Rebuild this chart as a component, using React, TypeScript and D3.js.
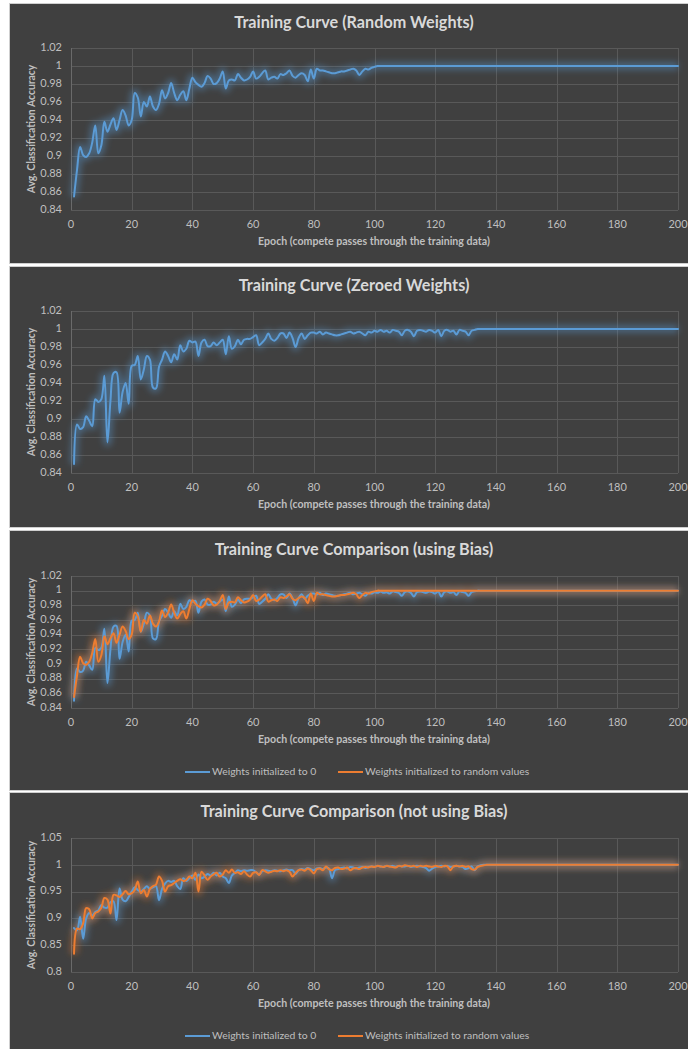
import * as d3 from "d3";
import { useEffect } from "react";

// epoch axis
const xTicks = [0, 20, 40, 60, 80, 100, 120, 140, 160, 180, 200];

// y ticks per panel
const yTicksBias = [0.84, 0.86, 0.88, 0.9, 0.92, 0.94, 0.96, 0.98, 1, 1.02];
const yTickLabelsBias = ["0.84", "0.86", "0.88", "0.9", "0.92", "0.94", "0.96", "0.98", "1", "1.02"];
const yTicksNoBias = [0.8, 0.85, 0.9, 0.95, 1, 1.05];
const yTickLabelsNoBias = ["0.8", "0.85", "0.9", "0.95", "1", "1.05"];

// accuracy per epoch (1..200)
const randomBias = [
  0.855, 0.885, 0.91, 0.901, 0.899, 0.903, 0.915, 0.934, 0.903, 0.912,
  0.938, 0.927, 0.935, 0.942, 0.929, 0.94, 0.951, 0.945, 0.934, 0.94,
  0.97, 0.965, 0.944, 0.96, 0.955, 0.966, 0.955, 0.951, 0.958, 0.973,
  0.964, 0.97, 0.981, 0.97, 0.962, 0.968, 0.972, 0.962, 0.975, 0.987,
  0.982, 0.979, 0.977, 0.981, 0.989, 0.986, 0.98, 0.981, 0.986, 0.994,
  0.975, 0.984, 0.985, 0.984, 0.991, 0.987, 0.984, 0.985, 0.988, 0.994,
  0.986, 0.988, 0.992, 0.995, 0.985, 0.987, 0.988, 0.986, 0.991, 0.99,
  0.992, 0.995, 0.989, 0.987, 0.99, 0.992, 0.99, 0.983, 0.996, 0.986,
  0.997, 0.995, 0.995, 0.994, 0.993, 0.992, 0.992, 0.993, 0.994, 0.994,
  0.995, 0.996, 0.997, 0.995, 0.99, 0.994, 0.997, 0.996, 0.998, 0.999,
  1, 1, 1, 1, 1, 1, 1, 1, 1, 1, 1, 1, 1, 1, 1, 1, 1, 1, 1, 1,
  1, 1, 1, 1, 1, 1, 1, 1, 1, 1, 1, 1, 1, 1, 1, 1, 1, 1, 1, 1,
  1, 1, 1, 1, 1, 1, 1, 1, 1, 1, 1, 1, 1, 1, 1, 1, 1, 1, 1, 1,
  1, 1, 1, 1, 1, 1, 1, 1, 1, 1, 1, 1, 1, 1, 1, 1, 1, 1, 1, 1,
  1, 1, 1, 1, 1, 1, 1, 1, 1, 1, 1, 1, 1, 1, 1, 1, 1, 1, 1, 1,
];

const zeroBias = [
  0.85, 0.894, 0.889, 0.891, 0.903, 0.898, 0.892, 0.922, 0.919, 0.922,
  0.948, 0.874, 0.92, 0.951, 0.952, 0.907, 0.93, 0.94, 0.917, 0.959,
  0.96, 0.97, 0.944, 0.955, 0.97, 0.966, 0.935, 0.934, 0.958, 0.966,
  0.975, 0.97, 0.963, 0.972, 0.966, 0.982, 0.975, 0.978, 0.987, 0.985,
  0.986, 0.97, 0.985, 0.988, 0.981, 0.981, 0.985, 0.982, 0.985, 0.988,
  0.972, 0.992, 0.978, 0.981, 0.988, 0.983, 0.988, 0.989, 0.989, 0.991,
  0.993, 0.982, 0.985, 0.989, 0.995, 0.989, 0.987, 0.99, 0.995, 0.995,
  0.99, 0.996, 0.99, 0.98, 0.99, 0.995, 0.989, 0.993, 0.996, 0.996,
  0.995, 0.997, 0.994, 0.996, 0.995, 0.994, 0.993, 0.993, 0.994, 0.995,
  0.996, 0.997, 0.995, 0.996, 0.997, 0.995, 0.993, 0.997, 0.996, 0.998,
  0.997, 0.999, 0.997, 0.998, 0.996, 0.999, 0.998, 0.997, 0.993, 0.998,
  0.999, 0.997, 0.992, 0.998, 0.999, 0.998, 0.997, 0.999, 0.998, 0.996,
  0.999, 0.992, 0.998, 0.999, 0.997, 0.998, 0.994, 0.999, 0.998, 0.997,
  0.993, 0.998, 0.999, 1, 1, 1, 1, 1, 1, 1,
  1, 1, 1, 1, 1, 1, 1, 1, 1, 1, 1, 1, 1, 1, 1, 1, 1, 1, 1, 1,
  1, 1, 1, 1, 1, 1, 1, 1, 1, 1, 1, 1, 1, 1, 1, 1, 1, 1, 1, 1,
  1, 1, 1, 1, 1, 1, 1, 1, 1, 1, 1, 1, 1, 1, 1, 1, 1, 1, 1, 1,
];

const randomNoBias = [
  0.834, 0.881, 0.88, 0.891, 0.919, 0.917, 0.9, 0.91, 0.913, 0.92,
  0.938, 0.935, 0.909, 0.944, 0.943, 0.94, 0.945, 0.951, 0.945, 0.947,
  0.953, 0.969, 0.947, 0.953, 0.941, 0.955, 0.96, 0.963, 0.978, 0.97,
  0.95, 0.96, 0.962, 0.966, 0.97, 0.973, 0.97, 0.972, 0.978, 0.975,
  0.985, 0.95, 0.987, 0.98, 0.972, 0.978, 0.982, 0.985, 0.978, 0.982,
  0.99, 0.985, 0.991, 0.985, 0.986, 0.983, 0.988, 0.982, 0.978, 0.985,
  0.986, 0.981, 0.99, 0.988, 0.985, 0.987, 0.989, 0.988, 0.99, 0.988,
  0.99, 0.987, 0.978, 0.985, 0.99, 0.991, 0.989, 0.993, 0.99, 0.984,
  0.992, 0.993, 0.99, 0.997, 0.992, 0.99, 0.994, 0.995, 0.992, 0.993,
  0.995, 0.99, 0.993, 0.994, 0.992, 0.995, 0.996, 0.995, 0.997, 0.996,
  0.998, 0.997, 0.996, 0.998, 0.997, 0.996, 0.995, 0.998, 0.997, 0.999,
  0.998, 0.997, 0.998, 0.996, 0.998, 0.997, 0.998, 0.997, 0.996, 0.998,
  0.997, 0.996, 0.998, 0.997, 0.99, 0.997, 0.998, 0.997, 0.998, 0.996,
  0.997, 0.992, 0.991, 0.996, 0.998, 0.999, 1, 1, 1, 1,
  1, 1, 1, 1, 1, 1, 1, 1, 1, 1, 1, 1, 1, 1, 1, 1, 1, 1, 1, 1,
  1, 1, 1, 1, 1, 1, 1, 1, 1, 1, 1, 1, 1, 1, 1, 1, 1, 1, 1, 1,
  1, 1, 1, 1, 1, 1, 1, 1, 1, 1, 1, 1, 1, 1, 1, 1, 1, 1, 1, 1,
];

const zeroNoBias = [
  0.882, 0.878, 0.903, 0.862, 0.9, 0.91, 0.905, 0.912, 0.915, 0.925,
  0.92, 0.92, 0.93, 0.932, 0.897, 0.956, 0.935, 0.932, 0.94, 0.95,
  0.958, 0.953, 0.95, 0.955, 0.96, 0.955, 0.958, 0.96, 0.934, 0.955,
  0.965, 0.97, 0.968, 0.97, 0.96, 0.955, 0.975, 0.97, 0.975, 0.98,
  0.972, 0.982, 0.975, 0.978, 0.983, 0.98, 0.985, 0.98, 0.985, 0.978,
  0.975, 0.966, 0.98, 0.985, 0.99, 0.988, 0.99, 0.989, 0.99, 0.99,
  0.986, 0.982, 0.988, 0.99, 0.989, 0.988, 0.99, 0.989, 0.988, 0.99,
  0.991, 0.99, 0.99, 0.983, 0.99, 0.992, 0.991, 0.994, 0.992, 0.99,
  0.993, 0.994, 0.992, 0.995, 0.993, 0.975, 0.99, 0.992, 0.994, 0.995,
  0.993, 0.996, 0.995, 0.993, 0.995, 0.996, 0.994, 0.996, 0.997, 0.996,
  0.998, 0.997, 0.996, 0.998, 0.997, 0.998, 0.996, 0.998, 0.997, 0.997,
  0.998, 0.996, 0.997, 0.998, 0.997, 0.996, 0.994, 0.989, 0.993, 0.996,
  0.997, 0.998, 0.997, 0.998, 0.996, 0.997, 0.998, 0.997, 0.996, 0.992,
  0.994, 0.997, 0.99, 0.997, 0.999, 1, 1, 1, 1, 1,
  1, 1, 1, 1, 1, 1, 1, 1, 1, 1, 1, 1, 1, 1, 1, 1, 1, 1, 1, 1,
  1, 1, 1, 1, 1, 1, 1, 1, 1, 1, 1, 1, 1, 1, 1, 1, 1, 1, 1, 1,
  1, 1, 1, 1, 1, 1, 1, 1, 1, 1, 1, 1, 1, 1, 1, 1, 1, 1, 1, 1,
];

const legendZero = "Weights initialized to 0";
const legendRandom = "Weights initialized to random values";
const xTitle = "Epoch (compete passes through the training data)";
const yTitle = "Avg. Classification Accuracy";

const BLUE = "#5b9bd5";
const ORANGE = "#ed7d31";
const BG = "#404040";
const GRID = "#595959";
const TEXT = "#d9d9d9";
const TICK = "#bfbfbf";
const FONT = "Lato, 'Open Sans', sans-serif";

type Series = { values: number[]; color: string };

type PanelProps = {
  top: number;
  bottom: number;
  title: string;
  plotTop: number;
  plotBottom: number;
  yTicks: number[];
  yLabels: string[];
  series: Series[];
  legend?: boolean;
};

const X0 = 71;
const X1 = 678;

function Panel({ top, bottom, title, plotTop, plotBottom, yTicks, yLabels, series, legend }: PanelProps) {
  const x = d3.scaleLinear().domain([0, 200]).range([X0, X1]);
  const y = d3
    .scaleLinear()
    .domain([yTicks[0], yTicks[yTicks.length - 1]])
    .range([plotBottom, plotTop]);
  const line = d3
    .line<number>()
    .x((_, i) => x(i + 1))
    .y((d) => y(d))
    .curve(d3.curveCatmullRom.alpha(0.5));

  const tickY = plotBottom + 15;
  const xTitleY = plotBottom + 32;
  const legendY = plotBottom + 64;

  return (
    <g>
      <rect x={9.5} y={top + 0.5} width={688} height={bottom - top} fill={BG} stroke="#cfcfcf" strokeWidth={1} />
      <text x={354} y={top + 21} textAnchor="middle" dominantBaseline="middle" fill={TEXT} fontSize={16.2} fontWeight={700} fontFamily={FONT}>
        {title}
      </text>
      {yTicks.map((t) => (
        <line key={"h" + t} x1={X0} x2={X1} y1={Math.round(y(t)) + 0.5} y2={Math.round(y(t)) + 0.5} stroke={GRID} strokeWidth={1} />
      ))}
      {xTicks.map((t) => (
        <line key={"v" + t} x1={Math.round(x(t)) + 0.5} x2={Math.round(x(t)) + 0.5} y1={plotTop} y2={plotBottom} stroke={t === 0 ? "#6a6a6a" : GRID} strokeWidth={1} />
      ))}
      {yTicks.map((t, i) => (
        <text key={"yl" + t} x={62} y={y(t)} textAnchor="end" dominantBaseline="middle" fill={TICK} fontSize={11} fontFamily={FONT}>
          {yLabels[i]}
        </text>
      ))}
      {xTicks.map((t) => (
        <text key={"xl" + t} x={x(t)} y={tickY} textAnchor="middle" dominantBaseline="middle" fill={TICK} fontSize={11} fontFamily={FONT}>
          {t}
        </text>
      ))}
      <text x={374} y={xTitleY} textAnchor="middle" dominantBaseline="middle" fill={TICK} fontSize={10.6} fontWeight={700} fontFamily={FONT}>
        {xTitle}
      </text>
      <text
        transform={`translate(32,${(plotTop + plotBottom) / 2}) rotate(-90)`}
        textAnchor="middle"
        dominantBaseline="middle"
        fill={TICK}
        fontSize={10.4}
        fontWeight={700}
        fontFamily={FONT}
      >
        {yTitle}
      </text>
      {series.map((s, i) => (
        <path key={"g" + i} d={line(s.values) ?? ""} fill="none" stroke={s.color} strokeOpacity={0.4} strokeWidth={8} filter="url(#glow)" />
      ))}
      {series.map((s, i) => (
        <path key={"l" + i} d={line(s.values) ?? ""} fill="none" stroke={s.color} strokeWidth={2} strokeLinejoin="round" strokeLinecap="round" />
      ))}
      {legend && (
        <g fontFamily={FONT} fontSize={10.4} fill={TICK}>
          <line x1={185} x2={210} y1={legendY} y2={legendY} stroke={BLUE} strokeWidth={2} />
          <text x={212} y={legendY} dominantBaseline="middle">{legendZero}</text>
          <line x1={338} x2={363} y1={legendY} y2={legendY} stroke={ORANGE} strokeWidth={2} />
          <text x={365} y={legendY} dominantBaseline="middle">{legendRandom}</text>
        </g>
      )}
    </g>
  );
}

export default function App() {
  useEffect(() => {
    document.body.style.margin = "0";
  }, []);

  const blue = (v: number[]): Series => ({ values: v, color: BLUE });
  const orange = (v: number[]): Series => ({ values: v, color: ORANGE });

  return (
    <svg width={688} height={1049} style={{ display: "block", position: "absolute", left: 0, top: 0 }}>
      <defs>
        <filter id="glow" x="-5%" y="-30%" width="110%" height="160%">
          <feGaussianBlur stdDeviation={3} />
        </filter>
      </defs>
      <rect width={688} height={1049} fill="#ffffff" />
      <Panel top={3} bottom={263} title="Training Curve (Random Weights)" plotTop={48} plotBottom={210} yTicks={yTicksBias} yLabels={yTickLabelsBias} series={[blue(randomBias)]} />
      <Panel top={266} bottom={527} title="Training Curve (Zeroed Weights)" plotTop={311} plotBottom={473} yTicks={yTicksBias} yLabels={yTickLabelsBias} series={[blue(zeroBias)]} />
      <Panel top={530} bottom={790} title="Training Curve Comparison (using Bias)" plotTop={576} plotBottom={708} yTicks={yTicksBias} yLabels={yTickLabelsBias} series={[blue(zeroBias), orange(randomBias)]} legend />
      <Panel top={792} bottom={1060} title="Training Curve Comparison (not using Bias)" plotTop={838} plotBottom={972} yTicks={yTicksNoBias} yLabels={yTickLabelsNoBias} series={[blue(zeroNoBias), orange(randomNoBias)]} legend />
    </svg>
  );
}
